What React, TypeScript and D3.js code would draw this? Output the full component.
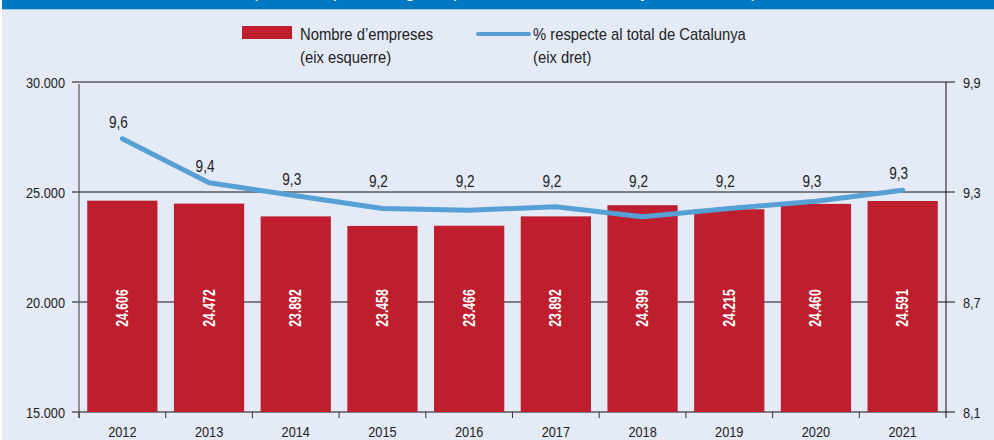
import React from "react";
import * as d3 from "d3";

const years = ["2012", "2013", "2014", "2015", "2016", "2017", "2018", "2019", "2020", "2021"];
const companies = [24606, 24472, 23892, 23458, 23466, 23892, 24399, 24215, 24460, 24591];
const companyLabels = ["24.606", "24.472", "23.892", "23.458", "23.466", "23.892", "24.399", "24.215", "24.460", "24.591"];
const sharePct = [9.59, 9.35, 9.28, 9.21, 9.2, 9.22, 9.165, 9.21, 9.25, 9.31];
const shareLabels = ["9,6", "9,4", "9,3", "9,2", "9,2", "9,2", "9,2", "9,2", "9,3", "9,3"];
const leftTicks = [15000, 20000, 25000, 30000];
const leftTickLabels = ["15.000", "20.000", "25.000", "30.000"];
const rightTicks = [8.1, 8.7, 9.3, 9.9];
const rightTickLabels = ["8,1", "8,7", "9,3", "9,9"];

const W = 994;
const H = 440;
const FONT = "'Liberation Sans', Arial, sans-serif";
const RED = "#be1e2d";
const BLUE = "#56a0d5";
const BG = "#e4eaf6";
const INK = "#222";

type NProps = {
  x: number;
  y: number;
  size: number;
  sx?: number;
  anchor?: "start" | "middle" | "end";
  fill?: string;
  weight?: number;
  rotate?: number;
  children: React.ReactNode;
};

function NText({ x, y, size, sx = 0.85, anchor = "start", fill = INK, weight = 400, rotate = 0, children }: NProps) {
  return (
    <text
      transform={`translate(${x},${y}) rotate(${rotate}) scale(${sx},1)`}
      fontSize={size}
      fill={fill}
      fontWeight={weight}
      textAnchor={anchor}
    >
      {children}
    </text>
  );
}

export default function App() {
  const x0 = 79;
  const x1 = 946;
  const yTop = 82;
  const yBot = 412;

  const x = d3.scaleBand<string>().domain(years).range([x0, x1]).paddingInner(0.19).paddingOuter(0.095);
  const xb = d3.scaleBand<string>().domain(years).range([x0, x1]).padding(0);
  const yL = d3.scaleLinear().domain([15000, 30000]).range([yBot, yTop]);
  const yR = d3.scaleLinear().domain([8.1, 9.9]).range([yBot, yTop]);

  const cx = (y: string) => (xb(y) as number) + xb.bandwidth() / 2;
  const line = d3
    .line<number>()
    .x((_, i) => cx(years[i]))
    .y((d) => yR(d));

  return (
    <svg
      width={W}
      height={H}
      style={{ position: "fixed", left: 0, top: 0, display: "block" }}
      fontFamily={FONT}
    >
      <rect x={0} y={0} width={W} height={H} fill="#ffffff" />
      <rect x={2} y={0} width={W - 2} height={H} fill={BG} />
      <rect x={2} y={0} width={W - 2} height={9} fill="#0079c2" />
      <rect x={2} y={9} width={W - 2} height={1} fill="#9cc3e6" />
      <text x={252} y={-2} fontSize={17} fill="#ffffff" textLength={505} lengthAdjust="spacing">
        (Nombre i percentatge respecte al total de Catalunya, 2012-2021)
      </text>

      {/* legend */}
      <rect x={242} y={26} width={50} height={13} fill={RED} />
      <NText x={300} y={40} size={17} sx={0.87}>Nombre d’empreses</NText>
      <NText x={300} y={63} size={17} sx={0.87}>(eix esquerre)</NText>
      <line x1={478} x2={529} y1={34} y2={34} stroke={BLUE} strokeWidth={4} strokeLinecap="round" />
      <NText x={533} y={40} size={17} sx={0.87}>% respecte al total de Catalunya</NText>
      <NText x={533} y={63} size={17} sx={0.87}>(eix dret)</NText>

      {/* gridlines */}
      {leftTicks.map((t) => (
        <line key={"g" + t} x1={72} x2={955} y1={yL(t)} y2={yL(t)} stroke="#111" strokeWidth={1} />
      ))}
      {leftTicks.map((t, i) => (
        <NText key={"lt" + t} x={65} y={yL(t) + 5.5} size={15} anchor="end">
          {leftTickLabels[i]}
        </NText>
      ))}
      {rightTicks.map((t, i) => (
        <NText key={"rt" + t} x={963} y={yR(t) + 5.5} size={15}>
          {rightTickLabels[i]}
        </NText>
      ))}

      {/* axes */}
      <line x1={x0} x2={x0} y1={84} y2={418} stroke="#555" strokeWidth={1.2} />
      <line x1={x1} x2={x1} y1={yTop} y2={418} stroke="#111" strokeWidth={1} />
      {years.map((yr) => (
        <line
          key={"xt" + yr}
          x1={xb(yr) as number}
          x2={xb(yr) as number}
          y1={yBot}
          y2={418}
          stroke="#333"
          strokeWidth={1}
        />
      ))}

      {/* bars */}
      {years.map((yr, i) => (
        <rect
          key={"b" + yr}
          x={x(yr) as number}
          y={yL(companies[i])}
          width={x.bandwidth()}
          height={yBot - yL(companies[i])}
          fill={RED}
        />
      ))}
      {years.map((yr, i) => (
        <NText
          key={"bl" + yr}
          x={cx(yr) + 5.5}
          y={yL(20000) + 6}
          size={17}
          sx={0.72}
          rotate={-90}
          anchor="middle"
          fill="#ffffff"
          weight={600}
        >
          {companyLabels[i]}
        </NText>
      ))}

      {/* x labels */}
      {years.map((yr) => (
        <NText key={"xl" + yr} x={cx(yr)} y={437} size={15} anchor="middle">
          {yr}
        </NText>
      ))}

      {/* line */}
      <path d={line(sharePct) as string} fill="none" stroke={BLUE} strokeWidth={5} strokeLinecap="round" strokeLinejoin="round" />
      {years.map((yr, i) => {
        const py = Math.min(yR(sharePct[i]) - 17, yR(9.36));
        return (
          <NText key={"sl" + yr} x={cx(yr) - 4} y={py + 6} size={17} sx={0.8} anchor="middle">
            {shareLabels[i]}
          </NText>
        );
      })}
    </svg>
  );
}
